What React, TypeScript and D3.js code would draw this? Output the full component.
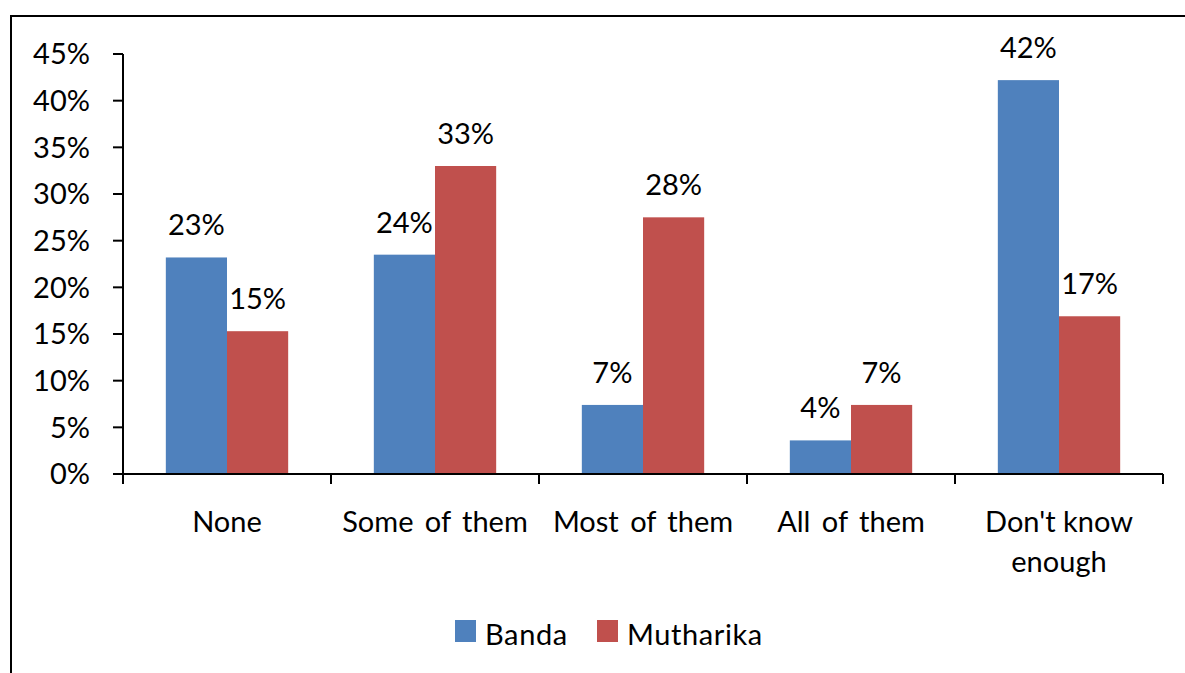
import React from "react";
import * as d3 from "d3";

const categories = ["None", "Some of them", "Most of them", "All of them", "Don't know enough"];
const seriesNames = ["Banda", "Mutharika"];
const banda = [23.2, 23.5, 7.4, 3.6, 42.2];
const mutharika = [15.3, 33.0, 27.5, 7.4, 16.9];
const bandaLabels = ["23%", "24%", "7%", "4%", "42%"];
const mutharikaLabels = ["15%", "33%", "28%", "7%", "17%"];
const yTicks = [0, 5, 10, 15, 20, 25, 30, 35, 40, 45];
const colors = ["#4F81BD", "#C0504D"];

export default function App() {
  const W = 1185, H = 673;
  const left = 123, right = 1163, top = 54, bottom = 474;
  const x = d3.scaleBand<string>().domain(categories).range([left, right]).paddingInner(0).paddingOuter(0);
  const y = d3.scaleLinear().domain([0, 45]).range([bottom, top]);
  const inner = d3.scaleBand<string>().domain(seriesNames).range([0, x.bandwidth()]).paddingInner(0).paddingOuter(0.7);
  const font = "Lato, 'Open Sans', sans-serif";
  const fs = 29;
  const series = [banda, mutharika];
  const labels = [bandaLabels, mutharikaLabels];
  const boundaries = categories.map((c) => x(c)!).concat([right]);

  return (
    <svg width={W} height={H} style={{ position: "absolute", left: 0, top: 0, background: "#fff" }}>
      <rect x={0} y={0} width={W} height={H} fill="#fff" />
      <rect x={11} y={16} width={W + 20} height={H + 20} fill="none" stroke="#000" strokeWidth={2} />
      {/* y axis */}
      <line x1={left} x2={left} y1={top} y2={bottom} stroke="#000" strokeWidth={2} />
      {yTicks.map((t) => (
        <g key={t}>
          <line x1={left - 10} x2={left} y1={y(t)} y2={y(t)} stroke="#000" strokeWidth={2} />
          <text x={90} y={y(t)} dy="0.36em" textAnchor="end" fontFamily={font} fontSize={fs} fill="#000">
            {t}%
          </text>
        </g>
      ))}
      {/* bars */}
      {categories.map((c, i) => (
        <g key={c}>
          {seriesNames.map((s, j) => {
            const bx = x(c)! + inner(s)!;
            const v = series[j][i];
            return (
              <g key={s}>
                <rect x={bx} y={y(v)} width={inner.bandwidth()} height={bottom - y(v)} fill={colors[j]} />
                <text
                  x={bx + inner.bandwidth() / 2}
                  y={y(v) - 22}
                  textAnchor="middle"
                  fontFamily={font}
                  fontSize={fs}
                  fill="#000"
                >
                  {labels[j][i]}
                </text>
              </g>
            );
          })}
        </g>
      ))}
      {/* x axis */}
      <line x1={left} x2={right} y1={bottom} y2={bottom} stroke="#000" strokeWidth={2} />
      {boundaries.map((b, i) => (
        <line key={i} x1={b} x2={b} y1={bottom} y2={bottom + 10} stroke="#000" strokeWidth={2} />
      ))}
      {categories.map((c) => {
        const cx = x(c)! + x.bandwidth() / 2;
        const lines = c === "Don't know enough" ? ["Don't know", "enough"] : [c];
        return (
          <text key={c} textAnchor="middle" fontFamily={font} fontSize={fs} fill="#000" wordSpacing={c.startsWith("Don") ? 0 : 4}>
            {lines.map((l, k) => (
              <tspan key={k} x={cx} y={532 + k * 40}>
                {l}
              </tspan>
            ))}
          </text>
        );
      })}
      {/* legend */}
      {seriesNames.map((s, j) => {
        const lx = [455, 597][j];
        return (
          <g key={s}>
            <rect x={lx} y={620} width={21} height={22} fill={colors[j]} />
            <text x={lx + 30} y={645} fontFamily={font} fontSize={fs} fill="#000" letterSpacing={0.6}>
              {s}
            </text>
          </g>
        );
      })}
    </svg>
  );
}
